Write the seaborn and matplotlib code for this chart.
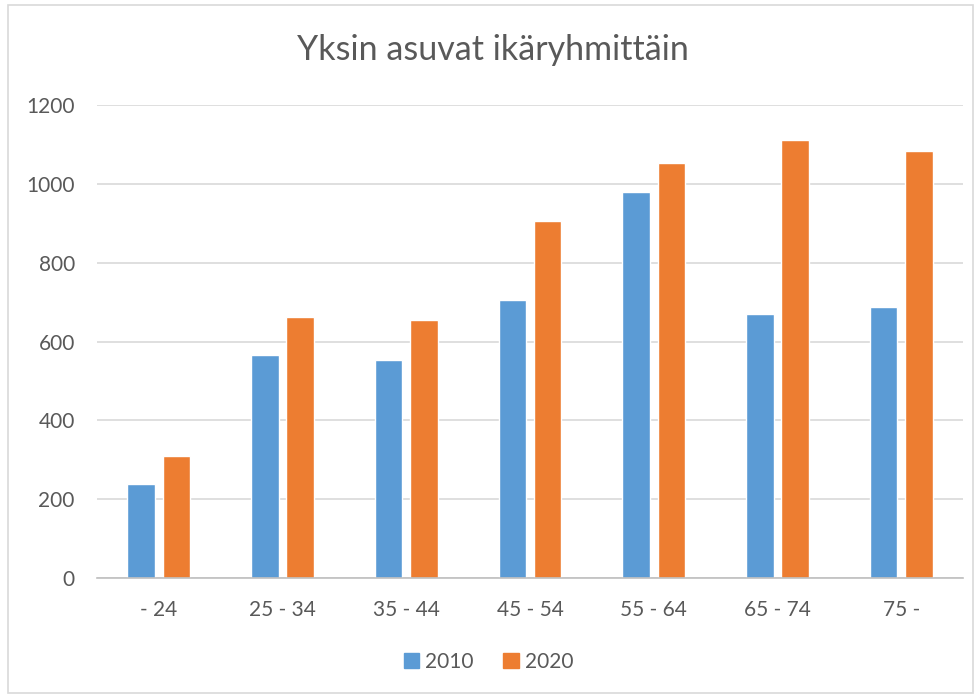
import pandas as pd
import matplotlib.pyplot as plt
import seaborn as sns
from matplotlib.patches import Rectangle, Patch

# data
groups = ['- 24', '25 - 34', '35 - 44', '45 - 54', '55 - 64', '65 - 74', '75 -']
v2010 = [238, 566, 553, 705, 979, 670, 688]
v2020 = [309, 661, 655, 905, 1052, 1110, 1083]
years = ['2010', '2020']

df = pd.DataFrame({'Ikä': groups * 2,
                   'Vuosi': [years[0]] * len(groups) + [years[1]] * len(groups),
                   'Määrä': v2010 + v2020})

sns.set_theme(style='white')
plt.rcParams['font.family'] = ['Lato', 'DejaVu Sans']
txt = '#595959'
colors = {'2010': '#5B9BD5', '2020': '#ED7D31'}

fig = plt.figure(figsize=(9.77, 6.97), dpi=100)
ax = fig.add_axes([97 / 977, 1 - 578 / 697, 866 / 977, 473 / 697])

sns.barplot(data=df, x='Ikä', y='Määrä', hue='Vuosi', palette=colors,
            width=0.57, gap=0.22, ax=ax, legend=False, saturation=1)

ax.set_ylim(0, 1200)
ax.set_xlim(-0.5, len(groups) - 0.5)
ax.set_yticks(range(0, 1201, 200))
ax.yaxis.grid(True, color='#D9D9D9', linewidth=1.2)
ax.set_axisbelow(True)
for s in ['top', 'right', 'left']:
    ax.spines[s].set_visible(False)
ax.spines['bottom'].set_color('#BFBFBF')
ax.spines['bottom'].set_linewidth(1.2)
ax.tick_params(axis='both', length=0, labelsize=15, colors=txt)
ax.tick_params(axis='y', pad=16)
ax.tick_params(axis='x', pad=16)
ax.set_xlabel('')
ax.set_ylabel('')

fig.text(0.505, 1 - 50 / 697, 'Yksin asuvat ikäryhmittäin', ha='center', va='center',
         fontsize=24.5, color=txt)

handles = [Patch(color=colors[y], label=y) for y in years]
fig.legend(handles=handles, loc='center', bbox_to_anchor=(0.5, 1 - 662 / 697), ncol=2,
           frameon=False, fontsize=15, labelcolor=txt, handlelength=0.75, handleheight=0.75,
           handletextpad=0.3, columnspacing=1.4)

fig.patches.append(Rectangle((8 / 977, 4 / 697), 965 / 977, 688 / 697, transform=fig.transFigure,
                             fill=False, edgecolor='#D9D9D9', linewidth=1.2))

fig.savefig('out.png', dpi=100)
